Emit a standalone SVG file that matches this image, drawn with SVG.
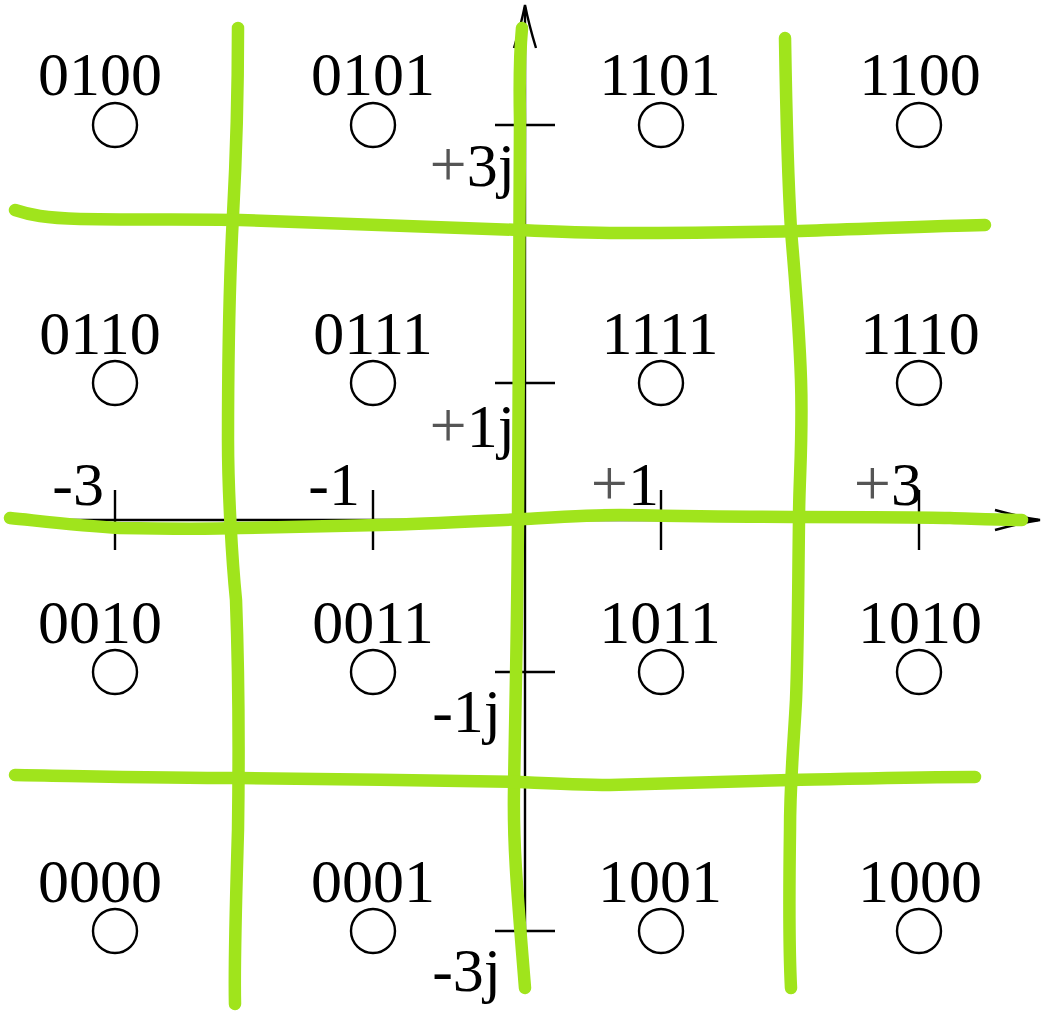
<svg xmlns="http://www.w3.org/2000/svg" width="1045" height="1017" viewBox="0 0 1045 1017">
<style>
  text { font-family: "Liberation Serif", "DejaVu Serif", serif; fill: #000; }
  .lbl { font-size: 62px; text-anchor: middle; }
  .ax { font-size: 62px; text-anchor: end; }
  .plus { fill: #555; font-size: 66px; }
  .pt { fill: none; stroke: #000; stroke-width: 2.4; }
  .axis { fill: none; stroke: #000; stroke-width: 2.4; }
  .green { fill: none; stroke: #a0e41c; stroke-width: 12.5; stroke-linecap: round; stroke-linejoin: round; }
</style>
<rect width="1045" height="1017" fill="#fff"/>
<g id="axes">
  <line class="axis" x1="60" y1="520" x2="1038" y2="520"/>
  <line class="axis" x1="525" y1="940" x2="525" y2="7"/>
  <path class="axis" d="M995,510 Q1020,517 1040,520 Q1020,523 995,530"/>
  <path class="axis" d="M514,48 Q521,25 525,5 Q529,25 536,48"/>
  <g id="x-ticks">
    <line class="axis" x1="115" y1="490" x2="115" y2="550"/>
    <line class="axis" x1="373" y1="490" x2="373" y2="550"/>
    <line class="axis" x1="661" y1="490" x2="661" y2="550"/>
    <line class="axis" x1="919" y1="490" x2="919" y2="550"/>
  </g>
  <g id="y-ticks">
    <line class="axis" x1="495" y1="125" x2="555" y2="125"/>
    <line class="axis" x1="495" y1="383" x2="555" y2="383"/>
    <line class="axis" x1="495" y1="672" x2="555" y2="672"/>
    <line class="axis" x1="495" y1="931" x2="555" y2="931"/>
  </g>
  <g id="axis-labels">
    <text class="ax" x="104" y="505">-3</text>
    <text class="ax" x="360" y="505">-1</text>
    <text class="ax" x="659" y="505"><tspan class="plus">+</tspan>1</text>
    <text class="ax" x="922" y="505"><tspan class="plus">+</tspan>3</text>
    <text class="ax" x="515" y="186"><tspan class="plus">+</tspan>3j</text>
    <text class="ax" x="515" y="447"><tspan class="plus">+</tspan>1j</text>
    <text class="ax" x="501" y="732">-1j</text>
    <text class="ax" x="501" y="991">-3j</text>
  </g>
</g>
<g id="p0100"><circle class="pt" cx="115" cy="125" r="22"/><text class="lbl" x="100" y="95">0100</text></g>
<g id="p0101"><circle class="pt" cx="373" cy="125" r="22"/><text class="lbl" x="373" y="95">0101</text></g>
<g id="p1101"><circle class="pt" cx="661" cy="125" r="22"/><text class="lbl" x="660" y="95">1101</text></g>
<g id="p1100"><circle class="pt" cx="919" cy="125" r="22"/><text class="lbl" x="920" y="95">1100</text></g>
<g id="p0110"><circle class="pt" cx="115" cy="383" r="22"/><text class="lbl" x="100" y="354">0110</text></g>
<g id="p0111"><circle class="pt" cx="373" cy="383" r="22"/><text class="lbl" x="373" y="354">0111</text></g>
<g id="p1111"><circle class="pt" cx="661" cy="383" r="22"/><text class="lbl" x="660" y="354">1111</text></g>
<g id="p1110"><circle class="pt" cx="919" cy="383" r="22"/><text class="lbl" x="920" y="354">1110</text></g>
<g id="p0010"><circle class="pt" cx="115" cy="672" r="22"/><text class="lbl" x="100" y="643">0010</text></g>
<g id="p0011"><circle class="pt" cx="373" cy="672" r="22"/><text class="lbl" x="373" y="643">0011</text></g>
<g id="p1011"><circle class="pt" cx="661" cy="672" r="22"/><text class="lbl" x="660" y="643">1011</text></g>
<g id="p1010"><circle class="pt" cx="919" cy="672" r="22"/><text class="lbl" x="920" y="643">1010</text></g>
<g id="p0000"><circle class="pt" cx="115" cy="931" r="22"/><text class="lbl" x="100" y="902">0000</text></g>
<g id="p0001"><circle class="pt" cx="373" cy="931" r="22"/><text class="lbl" x="373" y="902">0001</text></g>
<g id="p1001"><circle class="pt" cx="661" cy="931" r="22"/><text class="lbl" x="660" y="902">1001</text></g>
<g id="p1000"><circle class="pt" cx="919" cy="931" r="22"/><text class="lbl" x="920" y="902">1000</text></g>
<g id="connectors">
  <path class="green" d="M238,28 C238,90 236,160 233,215 C230,270 228,330 228,440 C228,490 232,560 236,600 C239,680 239,760 238,830 C236,900 234,960 235,1004"/>
  <path class="green" d="M522,28 C520,50 519,70 520,120 C520,300 518,450 518,520 C517,650 515,720 514,790 C513,850 518,900 525,988"/>
  <path class="green" d="M785,38 C786,100 788,180 791,230 C795,280 799,320 801,380 C803,440 799,480 799,520 C798,600 798,650 796,700 C794,740 790,780 790,830 C789,900 789,950 791,988"/>
  <path class="green" d="M15,210 C30,215 45,218 80,219 C150,220 200,219 240,220 C330,223 420,226 520,230 C560,232 580,233 620,233 C700,233 760,232 800,231 C870,229 930,226 985,225"/>
  <path class="green" d="M10,518 C40,521 80,526 120,528 C180,529 210,529 240,528 C300,527 340,526 380,525 C430,524 480,521 525,519 C560,517 590,515 620,515 C680,516 740,517 800,517 C860,517 910,517 950,518 C980,519 1000,520 1022,520"/>
  <path class="green" d="M15,775 C80,776 160,778 240,778 C330,779 430,780 520,782 C560,784 580,785 610,785 C680,783 740,781 790,780 C850,779 910,777 975,777"/>
</g>
</svg>
